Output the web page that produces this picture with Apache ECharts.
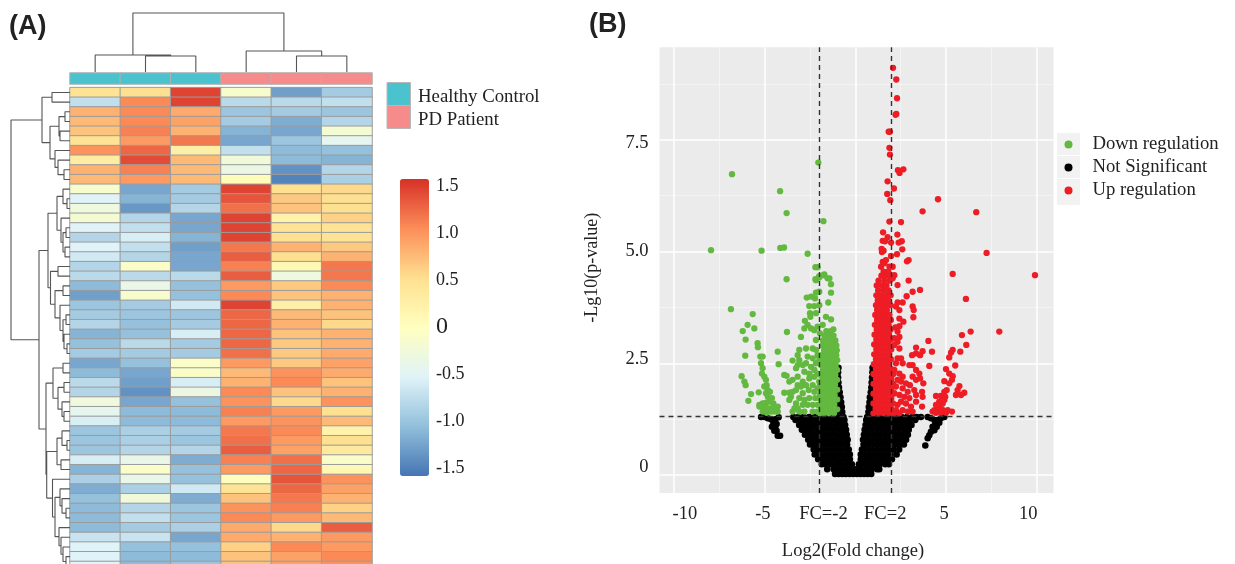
<!DOCTYPE html>
<html><head><meta charset="utf-8">
<style>html,body{margin:0;padding:0;background:#fff}#c{width:1235px;height:564px}</style>
<script src="https://cdn.jsdelivr.net/npm/echarts@6/dist/echarts.min.js"></script>
</head><body><div id="c"></div>
<script>
// ---------- Panel A data ----------
const columns = ['C1','C2','C3','P1','P2','P3'];
const columnGroups = [0,0,0,1,1,1];
const groupNames = ['Healthy Control','PD Patient'];
const heatRows = [
[0.45,0.5,1.45,-0.15,-1.3,-0.95],[-0.75,1.05,1.45,-0.8,-0.8,-0.75],[0.8,1.05,0.85,-1.0,-0.95,-1.0],[0.75,1.05,0.9,-0.95,-1.2,-0.85],
[0.7,1.1,0.8,-1.15,-1.25,-0.2],[0.45,0.95,1.15,-1.25,-1.0,-0.45],[1.0,1.25,0.25,-0.75,-1.1,-1.05],[0.3,1.4,0.75,-0.25,-1.1,-1.15],
[0.8,1.1,0.75,-0.35,-1.4,-0.85],[0.75,0.95,0.75,0.05,-1.5,-0.9],[-0.15,-1.25,-0.95,1.45,0.5,0.55],[-0.55,-1.15,-0.95,1.35,0.65,0.5],
[-0.3,-1.35,-0.85,1.2,0.7,0.5],[-0.2,-0.85,-1.25,1.45,0.2,0.6],[-0.55,-0.75,-1.25,1.45,0.45,0.45],[-0.85,-0.6,-1.15,1.45,0.5,0.45],
[-0.55,-0.75,-1.3,1.15,0.8,0.65],[-0.65,-0.85,-1.25,1.3,0.5,0.8],[-0.85,-0.1,-1.25,1.1,0.1,1.15],[-0.8,-0.8,-0.8,1.3,-0.3,1.15],
[-1.1,-0.4,-1.05,0.95,0.65,1.05],[-1.3,-0.15,-1.05,1.05,0.7,0.8],[-1.0,-0.95,-0.65,1.45,0.25,0.8],[-0.95,-1.0,-1.0,1.25,0.75,0.7],
[-0.85,-1.05,-0.95,1.25,0.8,0.55],[-1.15,-1.05,-0.6,1.25,0.7,0.8],[-1.05,-0.8,-0.95,1.25,0.65,0.8],[-0.95,-0.95,-0.95,1.2,0.65,0.85],
[-1.25,-1.05,-0.1,0.95,0.65,0.9],[-1.1,-1.25,-0.1,0.75,1.0,0.85],[-0.8,-1.3,-0.6,0.8,1.05,0.7],[-0.85,-1.4,-0.35,1.05,0.7,0.8],
[-0.3,-1.25,-1.05,1.0,0.55,1.0],[-0.45,-1.1,-1.1,1.1,0.95,0.5],[-0.6,-1.1,-1.1,0.95,1.0,0.75],[-1.0,-0.9,-0.95,1.15,1.05,0.2],
[-1.0,-0.9,-1.0,1.2,0.95,0.5],[-1.0,-0.85,-0.85,1.3,0.9,0.35],[-0.6,-0.4,-1.2,1.1,1.2,-0.1],[-1.15,-0.1,-1.05,0.95,1.25,0.1],
[-0.9,-0.4,-1.05,0.0,1.35,1.0],[-1.2,-0.9,-0.65,0.45,1.25,0.9],[-1.05,-0.25,-1.2,0.7,1.15,0.8],[-1.1,-0.85,-1.0,1.0,1.1,0.6],
[-1.1,-0.75,-1.0,1.05,0.95,0.75],[-1.1,-0.95,-0.9,0.85,0.55,1.3],[-0.7,-0.7,-1.25,0.85,0.8,0.95],[-0.55,-1.05,-1.05,0.6,1.05,0.95],
[-0.55,-1.1,-1.1,0.7,0.9,1.05],[-0.55,-1.1,-1.0,0.7,0.9,1.0]];
const colorTicks = [1.5,1,0.5,0,-0.5,-1,-1.5];
// dendrograms: [merge height, child, child]; a bare number is a leaf (1-based)
const columnTree = [59,[17,1,[16,2,3]],[21,4,[16,5,6]]];
const rowTree = [59,
 [28,[18,1,2],[20,[11,[5,3,4],[10,5,6]],[15,7,[12,8,[6,9,10]]]]],
 [31,
  [22,
   [13,[7,11,[3,12,13]],[9,14,[7,[4,15,16],[5,17,18]]]],
   [19.5,[12,19,20],[15,[7,21,22],[10,23,[7,[4,24,25],[6,26,[3,27,28]]]]]]],
  [24,
   [17,[7,29,30],[12,[6,31,32],[8,33,[6,34,35]]]],
   [23.3,
    [13,[8,36,[3,37,38]],[9,39,40]],
    [17.5,41,[15,[10,42,[8,43,[4,44,45]]],[11,46,[9,47,[7,48,[4,49,50]]]]]]]]]];

// ---------- Panel B data (log2 fold change, -log10 p) ----------
const blackRows = [
[0.02,-1.12,-.92,-.72,-.52,-.32,-.12,.08,.28,.48,.68,.88],
[0.13,-1.55,-1.2,-.9,-.6,-.3,0,.3,.6,.9,1.2,1.32],
[0.24,-1.85,-1.65,-1.35,-1.05,-.75,-.45,-.19,.19,.45,.75,1.05,1.35,1.65,1.85],
[0.35,-2.05,-1.8,-1.5,-1.2,-.9,-.6,-.3,.3,.6,.9,1.2,1.5,1.8,2.02],
[0.46,-2.24,-1.95,-1.65,-1.35,-1.05,-.75,-.45,-.3,.3,.45,.75,1.05,1.35,1.65,1.95,2.28],
[0.57,-2.3,-2.1,-1.8,-1.5,-1.2,-.9,-.6,-.36,.36,.6,.9,1.2,1.5,1.8,2.1,2.42],
[0.68,-2.5,-2.25,-1.95,-1.65,-1.35,-1.05,-.75,-.45,.45,.75,1.05,1.35,1.65,1.95,2.25,2.5,2.68],
[0.79,-2.6,-2.4,-2.1,-1.8,-1.5,-1.2,-.9,-.6,-.42,.42,.6,.9,1.2,1.5,1.8,2.1,2.4,2.7,2.8],
[0.9,-2.78,-2.55,-2.25,-1.95,-1.65,-1.35,-1.05,-.75,-.47,.47,.75,1.05,1.35,1.65,1.95,2.25,2.55,2.85,2.9],
[1.01,-2.95,-2.7,-2.4,-2.1,-1.8,-1.5,-1.2,-.9,-.6,-.51,.51,.6,.9,1.2,1.5,1.8,2.1,2.4,2.7,2.95],
[1.12,-3.1,-2.85,-2.55,-2.25,-1.95,-1.65,-1.35,-1.05,-.75,-.56,.56,.75,1.05,1.35,1.65,1.95,2.25,2.55,2.85,3.1],
[1.23,-3.3,-3,-2.7,-2.4,-2.1,-1.8,-1.5,-1.2,-.9,-.6,.6,.9,1.2,1.5,1.8,2.1,2.4,2.7,3,3.3],
[1.3,-3.42,-3.15,-2.85,-2.55,-2.25,-1.95,-1.65,-1.35,-1.05,-.75,-.65,.65,.75,1.05,1.35,1.65,1.95,2.25,2.55,2.85,3.15,3.38],
[1.41,-.98,-.72,.72,.98],[1.52,-.93,-.74,.74,.95],[1.63,-.95,-.78,.78,.95],[1.74,-.95,-.82,.8,.95],
[1.85,-.86,.85],[1.96,-.9,.88],[2.07,-.93,.9],[2.18,-.95,.92],[2.3,-.95,.94],[2.4,-.93,.95]];
const blackSparse = [[-5.2,1.3],[-5.02,1.3],[-4.83,1.27],[-4.65,1.25],[-4.41,1.25],[-4.23,1.29],[-4.52,1.17],[-4.34,1.14],[-4.6,1.08],[-4.41,1.08],[-4.47,.99],[-4.34,.99],[-4.28,.88],[-4.15,.88],
[3.31,1.25],[3.62,1.3],[3.99,1.3],[4.17,1.27],[4.36,1.23],[4.54,1.23],[4.72,1.27],[4.91,1.3],[4.63,1.17],[4.41,1.14],[4.26,1.08],[4.49,1.08],[4.36,1.0],[4.17,.97],[4.08,.89],[3.99,.82],[3.86,.66]];
const greenRows = [
[3.22,-1.6,-1.35],[3.12,-1.7,-1.45,-1.2],[3.01,-1.78,-1.52,-1.25,-1.1],[2.9,-1.82,-1.58,-1.3,-1.05],[2.79,-1.72,-1.45,-1.18,-1.02],
[2.68,-1.86,-1.6,-1.32,-1.05],[2.57,-1.75,-1.48,-1.2,-1],[2.46,-1.9,-1.62,-1.35,-1.08],[2.35,-1.78,-1.5,-1.22,-1],[2.24,-1.92,-1.65,-1.38,-1.1],
[2.13,-1.8,-1.52,-1.25,-1],[2.02,-1.95,-1.68,-1.4,-1.12],[1.91,-1.82,-1.55,-1.28,-1],[1.8,-1.95,-1.7,-1.42,-1.14],[1.69,-1.85,-1.58,-1.3,-1],
[1.58,-1.95,-1.72,-1.45,-1.16],[1.47,-1.88,-1.6,-1.32,-1],[1.38,-1.95,-1.74,-1.46,-1.18]];
const greenSparse = [[-2.04,6.99],[-6.8,6.73],[-4.15,6.35],[-3.79,5.86],[-1.76,5.68],[-7.96,5.03],[-5.17,5.02],[-4.14,5.08],[-3.93,5.09],[-2.63,4.95],[-2.2,4.65],[-2.08,4.65],[-3.79,4.38],[-1.76,4.47],[-1.99,4.42],[-2.2,4.38],[-1.43,4.4],
[-6.86,3.71],[-5.66,3.6],[-5.94,3.36],[-6.21,3.22],[-5.57,3.28],[-6.05,3.03],[-5.39,2.95],[-5.37,2.86],[-6.07,2.67],[-4.28,2.76],[-3.77,3.2],[-4.23,2.48],[-3,3.09],[-6.27,2.21],[-6.12,2.09],[-6.05,2.01],[-5.75,1.81],[-5.9,1.66],[-5.33,1.85],
[-5.24,2.65],[-5.11,2.65],[-5.2,2.5],[-5.11,2.39],[-5.15,2.27],[-5.02,2.2],[-4.93,2.13],[-4.89,2.01],[-5.02,1.98],[-4.83,1.9],[-4.71,1.86],[-4.93,1.83],[-4.83,1.75],[-4.6,1.72],[-4.74,1.64],[-4.52,1.6],[-4.93,1.62],[-5.11,1.6],[-5.29,1.53],[-4.47,1.51],[-4.28,1.53],[-4.65,1.49],[-4.83,1.49],[-4.93,1.51],[-5.11,1.53],[-4.28,1.42],[-4.47,1.42],[-4.65,1.42],[-4.89,1.39],[-5.11,1.42],[-5.29,1.57],
[-3.09,2.8],[-2.72,2.83],[-2.35,2.83],[-2.17,2.8],[-3.18,2.68],[-3.46,2.56],[-3.09,2.57],[-3.18,2.46],[-2.9,2.46],[-2.63,2.65],[-2.35,2.61],[-2.08,2.68],[-2.72,2.5],[-2.44,2.42],[-2.17,2.5],[-1.99,2.57],[-3.27,2.39],[-3.92,2.24],[-3.79,2.22],[-3.46,2.13],[-3.64,2.09],[-3.18,2.2],[-2.81,2.31],[-2.54,2.27],[-2.26,2.35],[-2.08,2.27],[-3.18,2.01],[-2.9,2.09],[-2.54,2.16],[-2.26,2.2],[-1.99,2.09],[-3.92,1.84],[-3.64,1.84],[-3.46,1.86],[-3.55,1.75],[-3.64,1.68],[-3,1.98],[-2.72,2.01],[-2.35,2.01],[-2.08,1.94],[-3.27,1.9],[-2.9,1.83],[-2.57,1.9],[-2.26,1.86],[-1.89,1.86],[-3.09,1.72],[-2.81,1.68],[-2.54,1.72],[-2.21,1.72],[-1.99,1.72],[-3.27,1.6],[-3.36,1.49],[-3.46,1.42],[-3.18,1.49],[-2.9,1.57],[-2.63,1.57],[-2.35,1.57],[-2.08,1.57],[-3.09,1.42],[-2.81,1.42],[-2.35,1.42],[-2.08,1.42],
[-2.68,3.97],[-2.44,3.99],[-2.17,4.08],[-1.99,4.1],[-2.22,3.95],[-2.54,3.78],[-2.26,3.78],[-1.99,3.8],[-1.49,3.86],[-2.5,3.62],[-2.48,3.54],[-2.17,3.62],[-1.62,3.54],[-1.34,3.48],[-2.78,3.45],[-2.63,3.36],[-2.44,3.28],[-2.81,3.28],[-2.26,3.24],[-2.08,3.32],[-1.8,3.36],[-1.95,3.17],[-2.17,3.02],
[-2.17,4.36],[-1.99,4.45],[-1.71,4.49],[-1.53,4.4],[-1.34,4.27],[-1.34,4.08],[-1.21,3.26]];
const redRows = [
[1.38,1.0,1.28,1.56,1.84,2.1],[1.49,1.12,1.4,1.68,1.96],[1.6,1.0,1.28,1.56,1.84,2.08],[1.71,1.14,1.42,1.7,1.98],[1.82,1.0,1.28,1.56,1.84,2.1],
[1.93,1.14,1.42,1.7,1.98],[2.04,1.0,1.28,1.56,1.84,2.08],[2.15,1.14,1.42,1.7,1.98],[2.26,1.0,1.28,1.56,1.84,2.1],[2.37,1.14,1.42,1.7,1.98],
[2.48,1.02,1.3,1.58,1.86],[2.59,1.14,1.42,1.7,1.96],[2.7,1.04,1.3,1.58,1.86],[2.81,1.16,1.44,1.72,1.98],[2.92,1.04,1.3,1.58,1.84],
[3.03,1.16,1.44,1.7,1.96],[3.14,1.06,1.32,1.6,1.86],[3.25,1.18,1.44,1.72,1.94],[3.36,1.08,1.34,1.6,1.84],[3.47,1.2,1.46,1.72,1.96],
[3.58,1.1,1.36,1.62,1.88],[3.69,1.2,1.48,1.74],[3.8,1.14,1.4,1.66,1.94],[3.91,1.24,1.52,1.8],[4.02,1.16,1.42,1.7,1.95],
[4.13,1.26,1.56,1.84],[4.24,1.18,1.46,1.72],[4.35,1.28,1.6,1.9],[4.46,1.44,1.7,1.95],[4.55,1.56,1.82]];
const redSparse = [[2.08,9.11],[2.26,8.85],[2.3,8.43],[2.22,8.06],[2.26,8.08],[1.84,7.68],[1.91,7.68],[1.88,7.32],[1.91,7.17],[2.35,6.82],[2.65,6.84],[2.44,6.76],[1.78,6.57],[2.13,6.41],[1.76,6.29],[1.93,6.15],[4.56,6.17],[3.71,5.9],[6.67,5.88],[1.88,5.67],[2.52,5.66],[1.53,5.43],[2.32,5.38],[1.78,5.32],[1.51,5.24],[1.64,5.23],[1.97,5.2],[2.56,5.23],[2.39,5.2],[1.45,5.06],[1.56,5.02],[1.47,4.99],[2.59,5.05],[2.3,4.94],[1.97,4.9],[7.24,4.97],[2.94,4.81],[2.85,4.78],[1.51,4.77],[1.42,4.66],[1.6,4.74],[1.69,4.81],[1.88,4.66],[2.06,4.66],[5.37,4.5],[9.91,4.47],
[2.15,4.47],[2.06,4.4],[2.33,4.25],[2.94,4.35],[3.57,4.14],[3.16,4.1],[2.83,4.0],[6.1,3.94],[2.33,3.86],[2.61,3.86],[3.16,3.77],[3.22,3.69],[2.43,3.69],[2.24,3.77],[3.2,3.53],[2.43,3.5],[2.65,3.43],[2.43,3.33],[2.21,3.3],[6.36,3.21],[7.94,3.21],[5.88,3.13],[2.33,3.21],[2.15,3.06],[2.43,3.09],[2.33,2.98],[2.15,2.91],[2.43,2.83],[4.03,3.0],[6.12,2.91],[3.35,2.85],[3.71,2.77],[4.23,2.76],[3.35,2.72],[3.13,2.68],[3.57,2.68],[5.37,2.8],[5.28,2.74],[5.79,2.76],[5.18,2.63],[2.52,2.61],[2.33,2.61],[2.61,2.5],[2.24,2.5],[2.98,2.46],[3.16,2.46],[4.08,2.44],[5.51,2.45],[3.35,2.35],[3.53,2.27],[5.0,2.37],[5.18,2.27],[5.37,2.21],[5.33,2.13],[4.91,2.1],[5.18,2.05],[5.74,1.99],[5.64,1.9],[6.01,1.84],[5.55,1.79],[5.83,1.79],[5.04,1.9],[4.91,1.86],[4.45,1.77],[4.72,1.77],[4.96,1.75],[4.91,1.68],[4.63,1.64],[4.82,1.6],[4.45,1.57],[4.63,1.53],[4.36,1.45],[4.54,1.45],[4.78,1.47],[5.09,1.45],[5.33,1.42],[4.26,1.42],[4.45,1.39],[4.72,1.39],[5.0,1.39],
[2.15,2.35],[2.43,2.27],[2.61,2.2],[2.33,2.13],[2.52,2.09],[2.79,2.05],[3.16,2.2],[3.35,2.13],[3.57,2.16],[3.75,2.05],[3.01,2.01],[2.61,1.94],[2.89,1.86],[3.25,1.9],[3.68,1.86],[3.35,1.79],[3.71,1.75],[2.24,1.98],[2.15,1.83],[2.43,1.79],[2.7,1.75],[2.98,1.72],[2.52,1.64],[2.33,1.57],[2.79,1.6],[3.07,1.53],[3.35,1.64],[3.68,1.53],[2.24,1.45],[2.61,1.45],[2.89,1.42],[3.16,1.42],[2.43,1.38],[2.15,1.38]];
const xMajor = [-10,-5,0,5,10], xMinor = [-7.5,-2.5,2.5,7.5];
const yMajor = [0,2.5,5,7.5], yMinor = [1.25,3.75,6.25,8.75];
const fcCuts = [-2,2], pCut = 1.32;
const xLabelAt = [-9.4,-5.1,-1.76,1.65,4.9,9.54], xLabelText = ['-10','-5','FC=-2','FC=2','5','10'];
const yLabelAt = [0.18,2.6,5,7.43], yLabelText = ['0','2.5','5.0','7.5'];
const seriesNames = ['Down regulation','Not Significant','Up regulation'];

// ---------- helpers ----------
const flatRows = rows => rows.flatMap(r => r.slice(1).map(x => [x, r[0]]));
function treeSegments(tree, horizontal){
  const pts = [];
  const add = (h,p) => pts.push(horizontal ? [h,p] : [p,h]);
  (function walk(n){
    if (typeof n === 'number') return {h:0, p:n-0.5};
    const a = walk(n[1]), b = walk(n[2]);
    add(a.h,a.p); add(n[0],a.p); add(n[0],b.p); add(b.h,b.p); pts.push(['-','-']);
    return {h:n[0], p:(a.p+b.p)/2};
  })(tree);
  return pts;
}
const SERIF = '"Liberation Serif","Times New Roman",serif';
const TEXT = '#222';
const heatColors = ['#4575B4','#91BFDB','#E0F3F8','#FFFFBF','#FEE090','#FC8D59','#D73027'];
const groupColors = ['#4AC3CF','#F58C8B'];
const hidden = {show:false};
const hiddenAxis = (o) => Object.assign({show:false}, o);
const gridBox = (o) => Object.assign({outerBoundsMode:'none'}, o);

const chart = echarts.init(document.getElementById('c'), null, {renderer:'canvas'});
chart.setOption({
  animation:false, backgroundColor:'#fff', tooltip:{show:false},
  grid:[
    gridBox({left:70, width:302, top:87.6, height:483.5}),
    gridBox({left:70, width:302, top:73, height:11}),
    gridBox({left:10.5, width:59.5, top:87.6, height:483.5}),
    gridBox({left:70, width:302, top:10, height:62}),
    gridBox({left:400, width:29, top:179, height:297}),
    gridBox({left:659.5, width:394, top:47.3, height:445.7})
  ],
  xAxis:[
    hiddenAxis({gridIndex:0,type:'category',data:columns}),
    hiddenAxis({gridIndex:1,type:'category',data:columns}),
    hiddenAxis({gridIndex:2,type:'value',min:0,max:59.5,inverse:true}),
    hiddenAxis({gridIndex:3,type:'value',min:0,max:6}),
    hiddenAxis({gridIndex:4,type:'value',min:0,max:1}),
    {gridIndex:5,type:'value',min:-10.8,max:10.93,splitLine:hidden,axisLine:hidden,axisTick:hidden,
     axisLabel:{customValues:xLabelAt,showMinLabel:true,showMaxLabel:true,margin:12,color:TEXT,fontFamily:SERIF,fontSize:18.5,hideOverlap:false,
       formatter:v=>xLabelText[xLabelAt.indexOf(v)]},
     name:'Log2(Fold change)',nameLocation:'middle',nameGap:49,nameTextStyle:{fontFamily:SERIF,fontSize:18.5,color:TEXT,padding:[0,7,0,0]}}
  ],
  yAxis:[
    hiddenAxis({gridIndex:0,type:'category',inverse:true,data:heatRows.map((_,i)=>'g'+(i+1))}),
    hiddenAxis({gridIndex:1,type:'category',data:['group']}),
    hiddenAxis({gridIndex:2,type:'value',min:0,max:50,inverse:true}),
    hiddenAxis({gridIndex:3,type:'value',min:0,max:62}),
    {gridIndex:4,type:'value',position:'right',min:-1.586,max:1.574,splitLine:hidden,axisLine:hidden,axisTick:hidden,
     axisLabel:{customValues:colorTicks,margin:7,color:TEXT,fontFamily:SERIF,fontSize:18,hideOverlap:false,
       formatter:v=>v===0?'{z|0}':(Number.isInteger(v)?v.toFixed(1):String(v)),rich:{z:{fontSize:24,fontFamily:SERIF,color:TEXT}}}},
    {gridIndex:5,type:'value',min:-0.403,max:9.57,splitLine:hidden,axisLine:hidden,axisTick:hidden,
     axisLabel:{customValues:yLabelAt,margin:11,color:TEXT,fontFamily:SERIF,fontSize:18.5,hideOverlap:false,
       formatter:v=>yLabelText[yLabelAt.indexOf(v)]},
     name:'-Lg10(p-value)',nameLocation:'middle',nameGap:58,nameTextStyle:{fontFamily:SERIF,fontSize:18,color:TEXT,padding:[0,0,0,5]}}
  ],
  visualMap:[
    {type:'continuous',seriesIndex:0,dimension:2,min:-1.6,max:1.56,inRange:{color:heatColors},
     left:400,top:179,itemWidth:29,itemHeight:297,padding:0,text:null,calculable:false,hoverLink:false,realtime:false,showLabel:false,textStyle:{fontSize:0}},
    {type:'piecewise',show:false,seriesIndex:1,dimension:2,pieces:groupColors.map((c,i)=>({value:i,color:c}))}
  ],
  legend:{left:1064.5,top:135,orient:'vertical',itemWidth:8,itemHeight:8,itemGap:4,padding:0,icon:'circle',data:seriesNames,selectedMode:false,
    textStyle:{fontFamily:SERIF,fontSize:18.7,color:TEXT,padding:[0,0,0,15],lineHeight:15}},
  series:[
    {type:'heatmap',xAxisIndex:0,yAxisIndex:0,data:heatRows.flatMap((r,i)=>r.map((v,j)=>[j,i,v])),itemStyle:{borderColor:'#9c9c9c',borderWidth:1},silent:true,progressive:0},
    {type:'heatmap',xAxisIndex:1,yAxisIndex:1,data:columnGroups.map((g,j)=>[j,0,g]),itemStyle:{borderColor:'#b0b0b0',borderWidth:1},silent:true},
    {type:'line',xAxisIndex:2,yAxisIndex:2,data:treeSegments(rowTree,true),showSymbol:false,connectNulls:false,lineStyle:{color:'#555',width:1.1},silent:true,clip:false},
    {type:'line',xAxisIndex:3,yAxisIndex:3,data:treeSegments(columnTree,false),showSymbol:false,connectNulls:false,lineStyle:{color:'#555',width:1.1},silent:true,clip:false},
    {type:'scatter',xAxisIndex:4,yAxisIndex:4,data:[],silent:true},
    {type:'scatter',xAxisIndex:5,yAxisIndex:5,data:[],silent:true,z:1,
     markLine:{z:1,silent:true,symbol:'none',label:hidden,animation:false,data:[
       ...xMinor.map(v=>({xAxis:v,lineStyle:{color:'#f4f4f4',width:1,type:'solid'}})),
       ...yMinor.map(v=>({yAxis:v,lineStyle:{color:'#f4f4f4',width:1,type:'solid'}})),
       ...xMajor.map(v=>({xAxis:v,lineStyle:{color:'#fff',width:1.5,type:'solid'}})),
       ...yMajor.map(v=>({yAxis:v,lineStyle:{color:'#fff',width:1.5,type:'solid'}}))
     ]}},
    {name:seriesNames[1],type:'scatter',xAxisIndex:5,yAxisIndex:5,symbolSize:6.5,z:2,silent:true,itemStyle:{color:'#000',opacity:1},data:[...flatRows(blackRows),...blackSparse]},
    {name:seriesNames[0],type:'scatter',xAxisIndex:5,yAxisIndex:5,symbolSize:6.3,z:3,silent:true,itemStyle:{color:'#63B83F',opacity:1},data:[...flatRows(greenRows),...greenSparse]},
    {name:seriesNames[2],type:'scatter',xAxisIndex:5,yAxisIndex:5,symbolSize:6.3,z:3,silent:true,itemStyle:{color:'#EE1C25',opacity:1},data:[...flatRows(redRows),...redSparse]},
    {type:'scatter',xAxisIndex:5,yAxisIndex:5,data:[],silent:true,z:4,
     markLine:{z:10,silent:true,symbol:'none',label:hidden,animation:false,data:[
       ...fcCuts.map(v=>({xAxis:v})),{yAxis:pCut}],lineStyle:{color:'#333',width:1.4,type:[5,4]}}}
  ],
  graphic:[
    {type:'rect',z:-10,silent:true,shape:{x:659.5,y:47.3,width:394,height:445.7},style:{fill:'#EBEBEB'}},
    {type:'rect',z:-10,silent:true,shape:{x:1057,y:133,width:23,height:22},style:{fill:'#F2F2F2'}},
    {type:'rect',z:-10,silent:true,shape:{x:1057,y:156,width:23,height:22},style:{fill:'#F2F2F2'}},
    {type:'rect',z:-10,silent:true,shape:{x:1057,y:179,width:23,height:26},style:{fill:'#F2F2F2'}},
    {type:'rect',silent:true,shape:{x:387,y:82.5,width:23.5,height:23},style:{fill:groupColors[0],stroke:'#b8b8b8',lineWidth:1}},
    {type:'rect',silent:true,shape:{x:387,y:105.5,width:23.5,height:23},style:{fill:groupColors[1],stroke:'#b8b8b8',lineWidth:1}},
    {type:'text',silent:true,x:418,y:97,style:{text:groupNames[0],font:'18.8px '+SERIF,fill:TEXT,textVerticalAlign:'middle'}},
    {type:'text',silent:true,x:418,y:120,style:{text:groupNames[1],font:'18.8px '+SERIF,fill:TEXT,textVerticalAlign:'middle'}},
    {type:'text',silent:true,x:9,y:26.5,style:{text:'(A)',font:'bold 27px "Liberation Sans",Arial,sans-serif',fill:TEXT,textVerticalAlign:'middle'}},
    {type:'text',silent:true,x:589,y:25,style:{text:'(B)',font:'bold 27px "Liberation Sans",Arial,sans-serif',fill:TEXT,textVerticalAlign:'middle'}}
  ]
});
</script></body></html>
